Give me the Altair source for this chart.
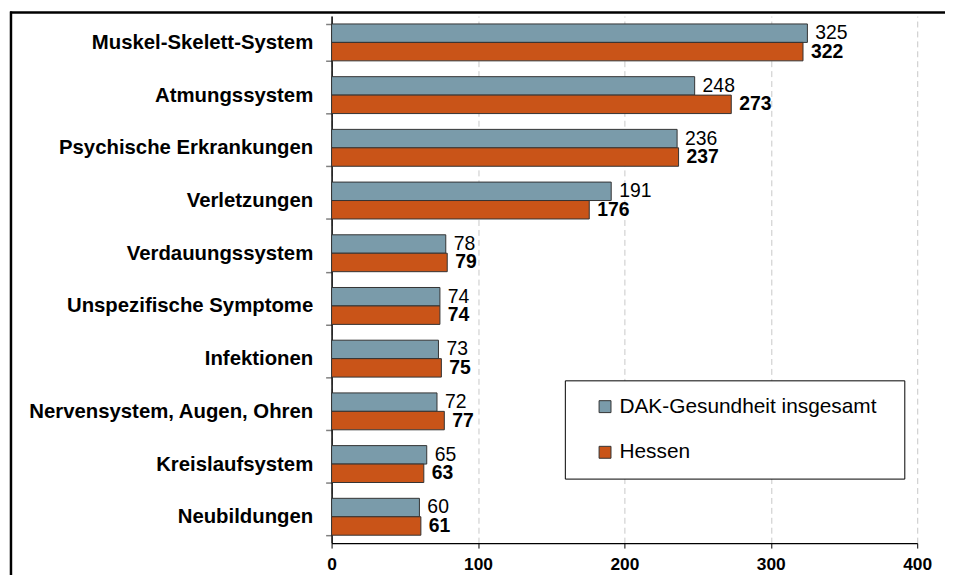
import altair as alt
import pandas as pd

categories = [
    "Muskel-Skelett-System",
    "Atmungssystem",
    "Psychische Erkrankungen",
    "Verletzungen",
    "Verdauungssystem",
    "Unspezifische Symptome",
    "Infektionen",
    "Nervensystem, Augen, Ohren",
    "Kreislaufsystem",
    "Neubildungen",
]
dak_values = [325, 248, 236, 191, 78, 74, 73, 72, 65, 60]
hessen_values = [322, 273, 237, 176, 79, 74, 75, 77, 63, 61]
series = ["DAK-Gesundheit insgesamt", "Hessen"]
colors = ["#7A9BAA", "#C95418"]
x_ticks = [0, 100, 200, 300, 400]

rows = []
for c, a, b in zip(categories, dak_values, hessen_values):
    rows.append({"Kategorie": c, "Reihe": series[0], "Wert": a})
    rows.append({"Kategorie": c, "Reihe": series[1], "Wert": b})
df = pd.DataFrame(rows)

FONT = "Liberation Sans"
W, H = 590, 531
LEFT = 326

y_enc = alt.Y(
    "Kategorie:N",
    sort=categories,
    scale=alt.Scale(paddingInner=0.3, paddingOuter=0.15),
    axis=alt.Axis(
        title=None,
        labelFontWeight="bold",
        labelFontSize=20.5,
        labelColor="black",
        labelPadding=13,
        labelLimit=400,
        tickSize=6,
        tickColor="#808080",
        tickWidth=1.5,
        tickBand="extent",
        domainColor="black",
        domainWidth=1.5,
        grid=False,
    ),
)
x_enc = alt.X(
    "Wert:Q",
    scale=alt.Scale(domain=[0, 400], nice=False),
    axis=alt.Axis(
        title=None,
        values=x_ticks,
        labelFlush=False,
        labelFontWeight="bold",
        labelFontSize=17.5,
        labelColor="black",
        labelPadding=8,
        tickSize=5,
        tickColor="black",
        domainColor="black",
        domainWidth=1.3,
        grid=True,
        gridDash=[6, 4],
        gridColor="#C8C8C8",
        gridWidth=1,
    ),
)
yoff = alt.YOffset("Reihe:N", sort=series, scale=alt.Scale(domain=series))

base = alt.Chart(df)

bars = base.mark_bar(stroke="#333333", strokeWidth=1).encode(
    y=y_enc,
    x=x_enc,
    yOffset=yoff,
    color=alt.Color(
        "Reihe:N",
        sort=series,
        scale=alt.Scale(domain=series, range=colors),
        legend=alt.Legend(
            title=" ",
            titleOrient="right",
            titleFontSize=1,
            titlePadding=12,
            orient="none",
            legendX=235,
            legendY=367,
            fillColor="white",
            strokeColor="black",
            padding=16,
            symbolOffset=14,
            symbolType="square",
            symbolSize=144,
            symbolStrokeColor="#333333",
            symbolStrokeWidth=1,
            labelFontSize=21,
            labelOffset=4,
            labelColor="black",
            labelLimit=400,
            rowPadding=24,
        ),
    ),
)

lab_dak = base.transform_filter(alt.datum.Reihe == series[0]).mark_text(
    align="left", baseline="middle", dx=8, fontSize=19.5, color="black"
).encode(y=y_enc, x=x_enc, yOffset=yoff, text="Wert:Q")

lab_he = base.transform_filter(alt.datum.Reihe == series[1]).mark_text(
    align="left", baseline="middle", dx=8, fontSize=19.5, fontWeight="bold", color="black"
).encode(y=y_enc, x=x_enc, yOffset=yoff, text="Wert:Q")

frame_data = alt.Data(values=[{"k": 1}])
frame_top = alt.Chart(frame_data).mark_rule(color="black", strokeWidth=2.5).encode(
    x=alt.value(-(LEFT - 2)), x2=alt.value(W + 40), y=alt.value(-3.5)
)
frame_left = alt.Chart(frame_data).mark_rule(color="black", strokeWidth=2.5).encode(
    x=alt.value(-(LEFT - 3)), y=alt.value(-4.5), y2=alt.value(H + 40)
)

chart = (
    alt.layer(bars, lab_dak, lab_he, frame_top, frame_left)
    .properties(
        width=W,
        height=H,
        autosize=alt.AutoSizeParams(type="none"),
        padding={"left": LEFT, "top": 6, "right": 952 - 8 - LEFT - W, "bottom": 30},
    )
    .configure(font=FONT)
    .configure_view(stroke=None)
    .configure_text(font=FONT)
)

chart.save("out.html", embed_options={"renderer": "svg", "actions": False})
